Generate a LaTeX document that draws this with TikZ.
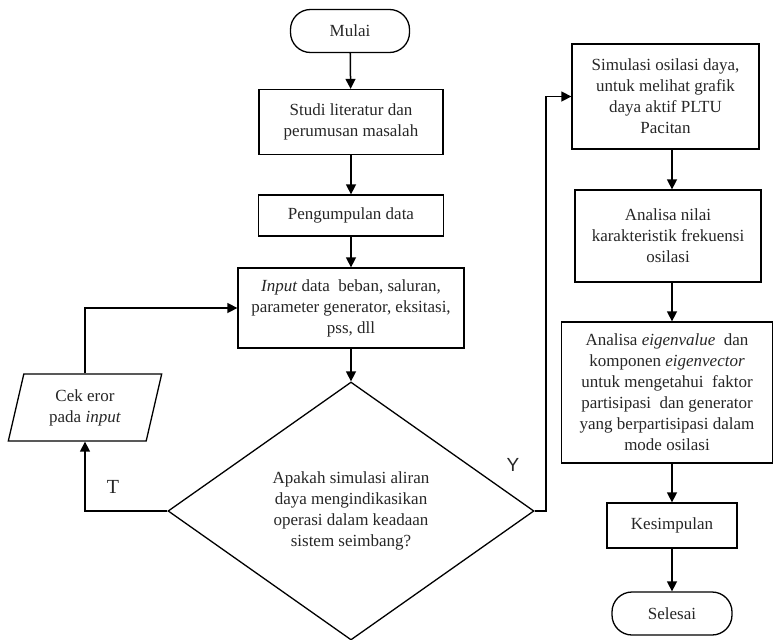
\documentclass[tikz,border=0pt]{standalone}
\usepackage{fontspec}
\setmainfont{Liberation Serif}
\newfontfamily\lsans{Liberation Sans}
\usetikzlibrary{shapes.geometric,arrows.meta}
\begin{document}
\begin{tikzpicture}[x=1pt,y=-1pt,
  every node/.style={font=\fontsize{17}{21}\selectfont, text=black!85, align=center, inner sep=0pt},
  box/.style={draw, line width=1.3pt, minimum width=#1},
  term/.style={draw, line width=1.3pt, rounded corners=20pt},
  arr/.style={draw, line width=1.5pt, -{Triangle[length=10pt,width=10pt]}},
  ln/.style={draw, line width=1.5pt}]
\useasboundingbox (0,0) rectangle (774,640);
% left column
\node[term, minimum width=119pt, minimum height=43pt] (mulai) at (350,31) {Mulai};
\node[box=184pt, minimum height=65pt] (studi) at (351,122) {Studi literatur dan\\perumusan masalah};
\node[box=185pt, minimum height=41pt] (peng) at (351,215.5) {Pengumpulan data};
\node[box=226pt, minimum height=80pt] (inp) at (351,308) {\textit{Input} data\ \ beban, saluran,\\parameter generator, eksitasi,\\pss, dll};
\node[draw, line width=1.3pt, diamond, minimum width=366pt, minimum height=258pt] (dia) at (351,511) {Apakah simulasi aliran\\daya mengindikasikan\\operasi dalam keadaan\\sistem seimbang?};
\node[draw, line width=1.3pt, trapezium, trapezium left angle=76, trapezium right angle=104, trapezium stretches=true, minimum width=154pt, minimum height=67pt] (cek) at (85,407.5) {Cek eror\\pada \textit{input}};
% right column
\node[box=187pt, minimum height=105pt] (sim) at (665.5,96.5) {Simulasi osilasi daya,\\untuk melihat grafik\\daya aktif PLTU\\Pacitan};
\node[box=186pt, minimum height=92pt] (nilai) at (668,236) {Analisa nilai\\karakteristik frekuensi\\osilasi};
\node[box=211pt, minimum height=141pt] (eig) at (667,392.5) {Analisa \textit{eigenvalue}\ \ dan\\komponen \textit{eigenvector}\\untuk mengetahui\ \ faktor\\partisipasi\ \ dan generator\\yang berpartisipasi dalam\\mode osilasi};
\node[box=130pt, minimum height=45pt] (kes) at (672,525.5) {Kesimpulan};
\node[term, minimum width=120pt, minimum height=43pt] (sel) at (672,613.5) {Selesai};
% labels
\node[font=\fontsize{20}{22}\selectfont] (tlab) at (113,487) {T};
\node[font=\lsans\fontsize{19}{22}\selectfont] (ylab) at (513,465) {Y};
\coordinate (ybend) at (546,511);
% connectors
\draw[arr] (mulai) -- (studi);
\draw[arr] (studi) -- (peng);
\draw[arr] (peng) -- (inp);
\draw[arr] (inp) -- (dia.north);
\draw[arr] (dia.west) -| (cek.south);
\draw[arr] (cek.north) |- (inp.west);
\draw[arr] (dia.east) -- (ybend) |- (sim.west);
\draw[arr] (sim.south -| kes.north) -- (nilai.north -| kes.north);
\draw[arr] (nilai.south -| kes.north) -- (eig.north -| kes.north);
\draw[arr] (eig.south -| kes.north) -- (kes.north);
\draw[arr] (kes) -- (sel);
\end{tikzpicture}
\end{document}
